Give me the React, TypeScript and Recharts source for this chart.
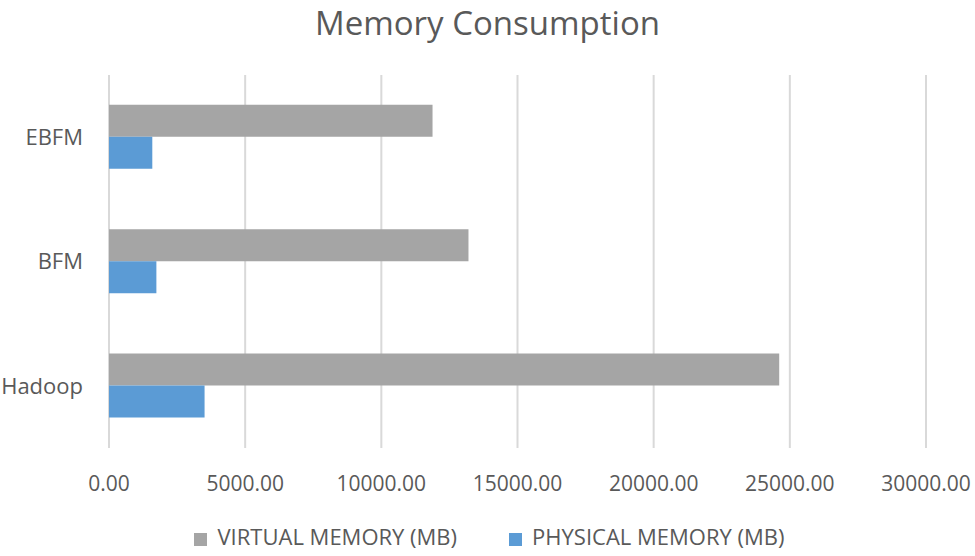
import { BarChart, Bar, XAxis, YAxis, CartesianGrid, Legend } from "recharts";

const categories = ["EBFM", "BFM", "Hadoop"];
const virtualMemory = [11880, 13200, 24610];
const physicalMemory = [1590, 1740, 3510];
const xTicks = [0, 5000, 10000, 15000, 20000, 25000, 30000];

const FONT = "'Open Sans', 'Liberation Sans', sans-serif";
const TEXT = "#595959";

const data = categories.map((name, i) => ({
  name,
  virtual: virtualMemory[i],
  physical: physicalMemory[i],
}));

// keep the legend in series order (virtual first)
const legendOrder = (item: any) => (item.dataKey === "virtual" ? 0 : 1);

export default function App() {
  return (
    <div style={{ position: "absolute", left: 0, top: 0, width: 975, height: 556, background: "#fff", fontFamily: FONT }}>
      <div
        style={{
          position: "absolute",
          top: 0,
          left: 0,
          width: 975,
          textAlign: "center",
          fontSize: 33,
          color: TEXT,
          lineHeight: "46px",
        }}
      >
        Memory Consumption
      </div>
      <BarChart
        width={975}
        height={556}
        data={data}
        layout="vertical"
        margin={{ top: 75, right: 49, left: 9, bottom: 5 }}
        barCategoryGap="24%"
        barGap={0}
      >
        <CartesianGrid horizontal={false} stroke="#d9d9d9" strokeWidth={2} />
        <XAxis
          type="number"
          domain={[0, 30000]}
          ticks={xTicks}
          tickFormatter={(v: number) => v.toFixed(2)}
          axisLine={false}
          tickLine={false}
          tick={{ fill: TEXT, fontSize: 21, fontFamily: FONT }}
          tickMargin={22}
          height={73}
        />
        <YAxis
          type="category"
          dataKey="name"
          axisLine={false}
          tickLine={false}
          tick={{ fill: TEXT, fontSize: 22, fontFamily: FONT }}
          tickMargin={20}
          width={100}
        />
        <Legend
          verticalAlign="bottom"
          iconType="square"
          iconSize={13}
          itemSorter={legendOrder}
          wrapperStyle={{ fontSize: 22, fontFamily: FONT, lineHeight: "30px", transform: "translateX(48px)" }}
          formatter={(value: string) => (
            <span style={{ color: TEXT, marginLeft: 6, marginRight: 42 }}>{value}</span>
          )}
        />
        <Bar dataKey="virtual" name="VIRTUAL MEMORY (MB)" fill="#A5A5A5" isAnimationActive={false} />
        <Bar dataKey="physical" name="PHYSICAL MEMORY (MB)" fill="#5B9BD5" isAnimationActive={false} />
      </BarChart>
    </div>
  );
}
